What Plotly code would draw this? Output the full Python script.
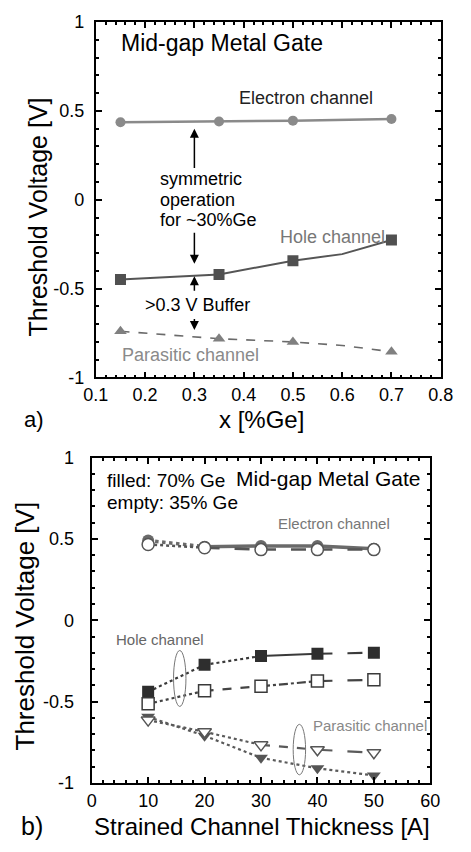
import plotly.graph_objects as go

W, H = 471, 852
FONT = "Liberation Sans, Arial, sans-serif"

# ---------------- Panel a) data ----------------
ge_frac = [0.15, 0.35, 0.5, 0.7]
vt_electron_a = [0.436, 0.44, 0.445, 0.454]
vt_hole_a = [-0.449, -0.42, -0.343, -0.227]
hole_line_x = [0.15, 0.35, 0.5, 0.6, 0.7]
hole_line_y = [-0.449, -0.42, -0.343, -0.306, -0.227]
vt_parasitic_a = [-0.74, -0.782, -0.80, -0.855]
para_line_x = [0.15, 0.35, 0.5, 0.6, 0.7]
para_line_y = [-0.74, -0.782, -0.80, -0.82, -0.855]

# ---------------- Panel b) data ----------------
thickness = [10, 20, 30, 40, 50]
elec_70 = [0.49, 0.452, 0.456, 0.456, 0.44]
elec_35 = [0.466, 0.446, 0.434, 0.434, 0.434]
hole_70 = [-0.44, -0.274, -0.22, -0.206, -0.20]
hole_35 = [-0.514, -0.434, -0.406, -0.374, -0.366]
para_70 = [-0.594, -0.71, -0.846, -0.91, -0.954]
para_35 = [-0.614, -0.686, -0.766, -0.796, -0.814]

# tick labels
a_xticks = [0.1, 0.2, 0.3, 0.4, 0.5, 0.6, 0.7, 0.8]
a_xticktext = ["0.1", "0.2", "0.3", "0.4", "0.5", "0.6", "0.7", "0.8"]
yticks = [-1, -0.5, 0, 0.5, 1]
yticktext = ["-1", "-0.5", "0", "0.5", "1"]
b_xticks = [0, 10, 20, 30, 40, 50, 60]
b_xticktext = ["0", "10", "20", "30", "40", "50", "60"]


def px(x, y):
    return x / W, 1 - y / H


fig = go.Figure()

# ---- panel a traces ----
fig.add_trace(go.Scatter(x=ge_frac, y=vt_electron_a, mode="lines+markers",
                         line=dict(color="#8a8a8a", width=2.5),
                         marker=dict(symbol="circle", size=10, color="#8a8a8a"),
                         xaxis="x", yaxis="y"))
fig.add_trace(go.Scatter(x=hole_line_x, y=hole_line_y, mode="lines",
                         line=dict(color="#555555", width=2), xaxis="x", yaxis="y"))
fig.add_trace(go.Scatter(x=ge_frac, y=vt_hole_a, mode="markers",
                         marker=dict(symbol="square", size=11, color="#505050"),
                         xaxis="x", yaxis="y"))
fig.add_trace(go.Scatter(x=para_line_x, y=para_line_y, mode="lines",
                         line=dict(color="#6a6a6a", width=1.6, dash="dash"),
                         xaxis="x", yaxis="y"))
fig.add_trace(go.Scatter(x=ge_frac, y=vt_parasitic_a, mode="markers",
                         marker=dict(symbol="triangle-up", size=11, color="#808080"),
                         xaxis="x", yaxis="y"))


# ---- panel b traces (segments with varied dash) ----
def seg_series(xs, ys, dashes, color, width):
    for i, d in enumerate(dashes):
        fig.add_trace(go.Scatter(x=xs[i:i + 2], y=ys[i:i + 2], mode="lines",
                                 line=dict(color=color, width=width, dash=d),
                                 xaxis="x2", yaxis="y2"))


seg_series(thickness, elec_70, ["dot", "solid", "solid", "solid"], "#6a6a6a", 3.5)
seg_series(thickness, elec_35, ["dot", "longdash", "longdash", "longdash"], "#555555", 2.5)
seg_series(thickness, hole_70, ["dot", "dot", "solid", "longdash"], "#3a3a3a", 2.2)
seg_series(thickness, hole_35, ["dot", "dash", "dashdot", "longdash"], "#444444", 2.2)
seg_series(thickness, para_70, ["dot", "dot", "dot", "dot"], "#5a5a5a", 2.2)
seg_series(thickness, para_35, ["dot", "dot", "dash", "longdash"], "#5a5a5a", 2.2)

fig.add_trace(go.Scatter(x=thickness, y=elec_70, mode="markers",
                         marker=dict(symbol="circle", size=12, color="#6a6a6a"),
                         xaxis="x2", yaxis="y2"))
fig.add_trace(go.Scatter(x=thickness, y=elec_35, mode="markers",
                         marker=dict(symbol="circle", size=12, color="white",
                                     line=dict(color="#555555", width=1.5)),
                         xaxis="x2", yaxis="y2"))
fig.add_trace(go.Scatter(x=thickness, y=hole_70, mode="markers",
                         marker=dict(symbol="square", size=12, color="#2e2e2e"),
                         xaxis="x2", yaxis="y2"))
fig.add_trace(go.Scatter(x=thickness, y=hole_35, mode="markers",
                         marker=dict(symbol="square", size=12, color="white",
                                     line=dict(color="#3a3a3a", width=1.5)),
                         xaxis="x2", yaxis="y2"))
fig.add_trace(go.Scatter(x=thickness, y=para_70, mode="markers",
                         marker=dict(symbol="triangle-down", size=12, color="#555555"),
                         xaxis="x2", yaxis="y2"))
fig.add_trace(go.Scatter(x=thickness, y=para_35, mode="markers",
                         marker=dict(symbol="triangle-down", size=12, color="white",
                                     line=dict(color="#555555", width=1.5)),
                         xaxis="x2", yaxis="y2"))

axis_common = dict(showgrid=False, zeroline=False, showline=True, linecolor="black",
                   mirror="ticks", ticks="inside", tickcolor="black",
                   tickfont=dict(family=FONT, size=18, color="black"))

xa0, _ = px(87.7, 0)
xa1, _ = px(452.7, 0)
_, ya1 = px(0, 12.3)
_, ya0 = px(0, 376.3)
xb0, _ = px(83.3, 0)
xb1, _ = px(441.7, 0)
_, yb1 = px(0, 458.3)
_, yb0 = px(0, 791.5)

fig.update_layout(
    width=W, height=H, margin=dict(l=0, r=0, t=0, b=0),
    paper_bgcolor="white", plot_bgcolor="white", showlegend=False,
    font=dict(family=FONT, color="black"),
    xaxis=dict(axis_common, domain=[xa0, xa1], range=[0.1, 0.8], anchor="y",
               tickvals=a_xticks, ticktext=a_xticktext, ticklen=6, linewidth=1.8, tickwidth=1.5,
               minor=dict(ticks="inside", dtick=0.02, ticklen=3, tickcolor="black"),
               ticklabelstandoff=0),
    yaxis=dict(axis_common, domain=[ya0, ya1], range=[-1, 1], anchor="x",
               tickvals=yticks, ticktext=yticktext, ticklen=6, linewidth=1.8, tickwidth=1.5,
               minor=dict(ticks="inside", dtick=0.1, ticklen=3, tickcolor="black"),
               ticklabelstandoff=6),
    xaxis2=dict(axis_common, domain=[xb0, xb1], range=[0, 60], anchor="y2",
                tickvals=b_xticks, ticktext=b_xticktext, ticklen=6, linewidth=2.2, tickwidth=1.5,
                minor=dict(ticks="inside", dtick=2, ticklen=3, tickcolor="black"),
                tickfont=dict(family=FONT, size=18, color="black"), ticklabelstandoff=0),
    yaxis2=dict(axis_common, domain=[yb0, yb1], range=[-1, 1], anchor="x2",
                tickvals=yticks, ticktext=yticktext, ticklen=6, linewidth=2.2, tickwidth=1.5,
                minor=dict(ticks="inside", dtick=0.1, ticklen=3, tickcolor="black"),
                ticklabelstandoff=12),
)

ann = []


def ptext(text, x, y, size, angle=0, color="black", xanchor="center"):
    xp, yp = px(x, y)
    ann.append(dict(text=text, x=xp, y=yp, xref="paper", yref="paper", showarrow=False,
                    textangle=angle, xanchor=xanchor, yanchor="middle",
                    font=dict(family=FONT, size=size, color=color)))


def dtext(text, x, y, size, color="black", xanchor="left", axes=("x", "y")):
    ann.append(dict(text=text, x=x, y=y, xref=axes[0], yref=axes[1], showarrow=False,
                    xanchor=xanchor, yanchor="middle",
                    font=dict(family=FONT, size=size, color=color)))


def arrow(x, y_tail, y_tip):
    ann.append(dict(text="", x=x, y=y_tip, ax=x, ay=y_tail, xref="x", yref="y",
                    axref="x", ayref="y", showarrow=True, arrowhead=2, arrowsize=1.2,
                    arrowwidth=1.5, arrowcolor="black"))


# axis titles / panel labels
ptext("Threshold Voltage [V]", 27, 212, 25, angle=-90)
ptext("x [%Ge]", 263, 419, 24)
ptext("a)", 22, 419, 22, xanchor="center")
ptext("Threshold Voltage [V]", 13, 631, 26, angle=-90)
ptext("Strained Channel Thickness [A]", 264, 836, 24)
ptext("b)", 20, 836, 25)

# panel a in-plot text
dtext("Mid-gap Metal Gate", 0.146, 0.881, 23)
dtext("Electron channel", 0.386, 0.5725, 18, color="#222222")
dtext("symmetric", 0.2254, 0.117, 18)
dtext("operation", 0.2254, 0.0, 18)
dtext("for ~30%Ge", 0.2254, -0.113, 18)
dtext("Hole channel", 0.469, -0.207, 18, color="#777777")
dtext(">0.3 V Buffer", 0.1965, -0.592, 18)
dtext("Parasitic channel", 0.1486, -0.872, 18, color="#8a8a8a")

arrow(0.3, 0.17, 0.40)
arrow(0.3, -0.178, -0.36)
arrow(0.3, -0.52, -0.43)
arrow(0.3, -0.663, -0.733)

# panel b in-plot text
dtext("filled: 70% Ge", 2.3, 0.86, 19, axes=("x2", "y2"))
dtext("empty: 35% Ge", 2.3, 0.726, 19, axes=("x2", "y2"))
dtext("Mid-gap Metal Gate", 58.5, 0.87, 21, xanchor="right", axes=("x2", "y2"))
dtext("Electron channel", 32.6, 0.596, 15, color="#777777", axes=("x2", "y2"))
dtext("Hole channel", 3.97, -0.12, 15, color="#666666", axes=("x2", "y2"))
dtext("Parasitic channel", 38.8, -0.648, 15, color="#888888", axes=("x2", "y2"))

fig.update_layout(annotations=ann)

fig.update_layout(shapes=[
    dict(type="circle", xref="x2", yref="y2", x0=14.5, x1=16.7, y0=-0.53, y1=-0.186,
         line=dict(color="#777777", width=1)),
    dict(type="circle", xref="x2", yref="y2", x0=35.7, x1=37.9, y0=-0.95, y1=-0.64,
         line=dict(color="#777777", width=1)),
])

fig.write_html("out.html")
